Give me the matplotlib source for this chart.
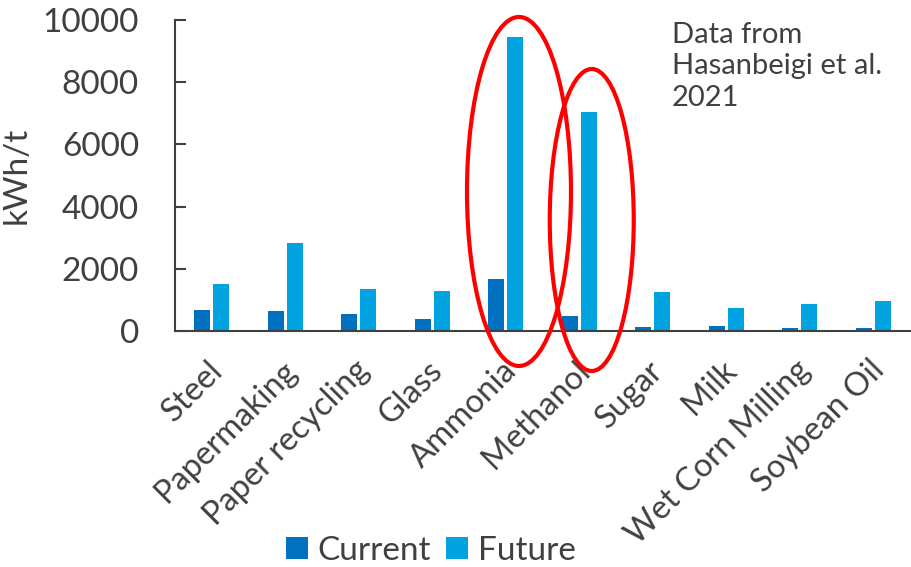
import matplotlib.pyplot as plt
import matplotlib.transforms as mtrans
import numpy as np
from matplotlib.patches import Ellipse

plt.rcParams['font.family'] = ['Lato', 'DejaVu Sans']

industries = ['Steel', 'Papermaking', 'Paper recycling', 'Glass', 'Ammonia',
              'Methanol', 'Sugar', 'Milk', 'Wet Corn Milling', 'Soybean Oil']
current = [666, 643, 537, 386, 1672, 493, 130, 160, 100, 100]
future = [1500, 2830, 1350, 1276, 9450, 7040, 1244, 730, 868, 965]
yticks = [0, 2000, 4000, 6000, 8000, 10000]

text_col = '#404040'
x = np.arange(len(industries))
w = 0.22

fig = plt.figure(figsize=(9.12, 5.67), dpi=100)
ax = fig.add_axes([175 / 912, 1 - 331 / 567, 735 / 912, 311 / 567])

ax.bar(x - 0.13, current, w, color='#0070C0', label='Current')
ax.bar(x + 0.13, future, w, color='#00A3E0', label='Future')

ax.set_xlim(-0.5, len(industries) - 0.5)
ax.set_ylim(0, 10000)
ax.set_yticks(yticks)
ax.set_yticklabels([str(v) for v in yticks])
ax.tick_params(axis='y', direction='in', length=8, width=1.5, color=text_col,
               labelsize=24, labelcolor=text_col, pad=26)
ax.set_xticks(x)
ax.set_xticklabels(industries, rotation=45, ha='right', va='center',
                   rotation_mode='anchor')
ax.tick_params(axis='x', length=0, labelsize=23.5, labelcolor=text_col, pad=25)
# nudge the slanted names a little to the right
shift = mtrans.ScaledTranslation(6 / 100, 0, fig.dpi_scale_trans)
for lbl in ax.get_xticklabels():
    lbl.set_transform(lbl.get_transform() + shift)
ax.set_ylabel('kWh/t', fontsize=24, color=text_col, labelpad=8)

for s in ['top', 'right']:
    ax.spines[s].set_visible(False)
for s in ['left', 'bottom']:
    ax.spines[s].set_color(text_col)
    ax.spines[s].set_linewidth(1.5)

# red rings around ammonia and methanol
ax.add_patch(Ellipse((4.18, 4486), 1.415, 11222, fill=False, ec='#FF0000',
                     lw=3, clip_on=False, zorder=5))
ax.add_patch(Ellipse((5.17, 3569), 1.143, 9711, fill=False, ec='#FF0000',
                     lw=3, clip_on=False, zorder=5))

fig.text(672 / 912, 1 - 22 / 567, 'Data from\nHasanbeigi et al.\n2021',
         fontsize=21, color=text_col, va='top', ha='left', linespacing=1.25)

fig.legend(loc='center', bbox_to_anchor=(431 / 912, 1 - 551 / 567), ncol=2,
           frameon=False, fontsize=24, handlelength=0.65, handleheight=0.65,
           handletextpad=0.3, columnspacing=0.45, labelcolor=text_col,
           borderpad=0)

fig.savefig('out.png', dpi=100)
